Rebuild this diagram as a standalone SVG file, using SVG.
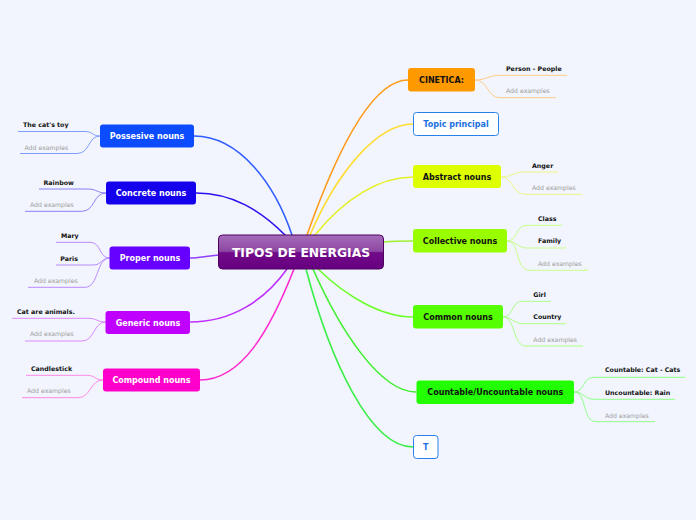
<svg xmlns="http://www.w3.org/2000/svg" width="696" height="520" viewBox="0 0 696 520">
<style>
.nt{font-family:"DejaVu Sans","Liberation Sans",sans-serif;font-weight:bold;font-size:8px;text-anchor:middle}
.ct{font-family:"DejaVu Sans","Liberation Sans",sans-serif;font-weight:bold;font-size:6.3px;fill:#111}
.ae{font-family:"DejaVu Sans","Liberation Sans",sans-serif;font-size:6.2px;fill:#9a9a9a}
.br{fill:none;stroke-width:1.6;stroke-linecap:round}
.cl{fill:none;stroke-width:1}
</style>
<defs>
<linearGradient id="cg" x1="0" y1="0" x2="0" y2="1">
<stop offset="0" stop-color="#a66cb9"/>
<stop offset="0.48" stop-color="#8d47a2"/>
<stop offset="0.52" stop-color="#710b89"/>
<stop offset="1" stop-color="#670080"/>
</linearGradient>
</defs>
<rect width="696" height="520" fill="#f2f5fd"/>
<g id="connectors">
<path class="br" stroke="#2f5dff" d="M292,235 C275,185 240,136 194,136"/>
<path class="br" stroke="#2a10ee" d="M285,235 C260,210 232,193 196,193"/>
<path class="br" stroke="#9040ff" d="M219,255 C205,256 200,258 190,258"/>
<path class="br" stroke="#c030ff" d="M287,269 C265,300 232,322 190,322"/>
<path class="br" stroke="#ff2ad0" d="M294,269 C270,330 242,380 200,380"/>
<path class="br" stroke="#ff9a1a" d="M307,235 C330,170 368,80 408,80"/>
<path class="br" stroke="#ffdd33" d="M310,235 C338,170 378,124 413,124"/>
<path class="br" stroke="#e6f028" d="M315,235 C345,198 380,177 413,177"/>
<path class="br" stroke="#a0f030" d="M384,242 C395,241 402,241 413,241"/>
<path class="br" stroke="#6cff2a" d="M318,269 C345,295 380,317 413,317"/>
<path class="br" stroke="#40f030" d="M313,269 C340,330 380,392 416,392"/>
<path class="br" stroke="#3cee48" d="M306,269 C330,360 370,447 413,447"/>
<!-- child lines -->
<g stroke="#7f9cff" class="cl">
<path class="cl" d="M100,136 C92,136 93,131.5 85,131.5 L18,131.5"/>
<path class="cl" d="M100,136 C88,136 90,153.5 77,153.5 L20,153.5"/>
</g>
<g stroke="#8a80f5">
<path class="cl" d="M106,193 C97,193 97,189 88,189 L39,189"/>
<path class="cl" d="M106,193 C93,193 95,211.3 82,211.3 L25,211.3"/>
</g>
<g stroke="#b88aff">
<path class="cl" d="M110,258 C98,258 102,242.3 90,242.3 L56,242.3"/>
<path class="cl" d="M110,258 C101,258 102,265 93,265 L56,265"/>
<path class="cl" d="M110,258 C96,258 99,287.3 85,287.3 L28,287.3"/>
</g>
<g stroke="#dc8aff">
<path class="cl" d="M106,322 C97,322 97,318.3 88,318.3 L12,318.3"/>
<path class="cl" d="M106,322 C93,322 95,341 82,341 L25,341"/>
</g>
<g stroke="#ff88e6">
<path class="cl" d="M103,380 C95,380 95,375.3 87,375.3 L26,375.3"/>
<path class="cl" d="M103,380 C90,380 91,397.7 78,397.7 L22,397.7"/>
</g>
<g stroke="#ffcc88">
<path class="cl" d="M475,80 C487,80 488,75.3 500,75.3 L567,75.3"/>
<path class="cl" d="M475,80 C488,80 487,97.7 500,97.7 L556,97.7"/>
</g>
<g stroke="#eef585">
<path class="cl" d="M501,177 C512,177 513,172 524,172 L558,172"/>
<path class="cl" d="M501,177 C513,177 512,194.3 525,194.3 L582,194.3"/>
</g>
<g stroke="#c8ff88">
<path class="cl" d="M507,241 C518,241 515,225.3 527,225.3 L562,225.3"/>
<path class="cl" d="M507,241 C516,241 518,248 527,248 L566,248"/>
<path class="cl" d="M507,241 C520,241 515,270.3 530,270.3 L588,270.3"/>
</g>
<g stroke="#acff88">
<path class="cl" d="M503,317 C514,317 511,301.3 522,301.3 L551,301.3"/>
<path class="cl" d="M503,317 C512,317 514,323.7 523,323.7 L566,323.7"/>
<path class="cl" d="M503,317 C516,317 512,346 526,346 L583,346"/>
</g>
<g stroke="#90ff88">
<path class="cl" d="M574,392 C585,392 582,377.3 594,377.3 L685,377.3"/>
<path class="cl" d="M574,392 C583,392 585,399.3 594,399.3 L675,399.3"/>
<path class="cl" d="M574,392 C587,392 582,421.7 596,421.7 L655,421.7"/>
</g>
</g>
<g id="center">
<rect x="218.5" y="235" width="165" height="34" rx="4" fill="url(#cg)" stroke="#4d0060" stroke-width="1"/>
<text x="301" y="256.5" class="nt" style="font-size:12.3px" fill="#fff">TIPOS DE ENERGIAS</text>
</g>
<g id="n-possesive"><rect x="100" y="124.5" width="94" height="23" rx="3" fill="#0b4cff"/><text x="147" y="139" class="nt" fill="#fff">Possesive nouns</text></g>
<g id="n-concrete"><rect x="106" y="181.5" width="90" height="23" rx="3" fill="#1500ee"/><text x="151" y="196" class="nt" fill="#fff">Concrete nouns</text></g>
<g id="n-proper"><rect x="109.5" y="246.5" width="80.5" height="23" rx="3" fill="#6600ff"/><text x="150" y="261" class="nt" fill="#fff">Proper nouns</text></g>
<g id="n-generic"><rect x="105.5" y="311" width="84.5" height="23" rx="3" fill="#c000ff"/><text x="148" y="325.5" class="nt" fill="#fff">Generic nouns</text></g>
<g id="n-compound"><rect x="103" y="368.5" width="97" height="23" rx="3" fill="#ff00cc"/><text x="151.5" y="383" class="nt" fill="#fff">Compound nouns</text></g>
<g id="n-cinetica"><rect x="408" y="68" width="67" height="23.5" rx="3" fill="#ff9900"/><text x="441.5" y="82.5" class="nt" fill="#111">CINETICA:</text></g>
<g id="n-topic"><rect x="413.5" y="112.5" width="85" height="23" rx="3" fill="#fff" stroke="#2a80e8" stroke-width="1"/><text x="456" y="127" class="nt" fill="#1a6fe0">Topic principal</text></g>
<g id="n-abstract"><rect x="413" y="165" width="88" height="23" rx="3" fill="#ddff00"/><text x="457" y="179.5" class="nt" fill="#111">Abstract nouns</text></g>
<g id="n-collective"><rect x="413" y="229" width="94" height="23.5" rx="3" fill="#99ff00"/><text x="460" y="243.5" class="nt" fill="#111">Collective nouns</text></g>
<g id="n-common"><rect x="413" y="305" width="90" height="23.5" rx="3" fill="#55ff00"/><text x="458" y="319.5" class="nt" fill="#111">Common nouns</text></g>
<g id="n-countable"><rect x="416.5" y="380.5" width="157.5" height="23.5" rx="3" fill="#22ff00"/><text x="495.3" y="395" class="nt" fill="#111">Countable/Uncountable nouns</text></g>
<g id="n-t"><rect x="413.5" y="435.5" width="24.5" height="23" rx="3" fill="#fff" stroke="#2a80e8" stroke-width="1"/><text x="425.7" y="450" class="nt" fill="#1a6fe0">T</text></g>
<g id="children">
<text x="23" y="126.8" class="ct">The cat's toy</text>
<text x="24.5" y="149.6" class="ae">Add examples</text>
<text x="43.5" y="184.6" class="ct">Rainbow</text>
<text x="30" y="207" class="ae">Add examples</text>
<text x="61" y="238" class="ct">Mary</text>
<text x="60.3" y="260.6" class="ct">Paris</text>
<text x="34" y="283" class="ae">Add examples</text>
<text x="17" y="314" class="ct">Cat are animals.</text>
<text x="30" y="335.6" class="ae">Add examples</text>
<text x="31" y="370.6" class="ct">Candlestick</text>
<text x="27" y="392.6" class="ae">Add examples</text>
<text x="506" y="70.6" class="ct">Person - People</text>
<text x="506" y="92.6" class="ae">Add examples</text>
<text x="532" y="167.6" class="ct">Anger</text>
<text x="532" y="189.6" class="ae">Add examples</text>
<text x="538" y="220.6" class="ct">Class</text>
<text x="538" y="243" class="ct">Family</text>
<text x="538" y="265.6" class="ae">Add examples</text>
<text x="533.3" y="296.6" class="ct">Girl</text>
<text x="533.3" y="319" class="ct">Country</text>
<text x="533.3" y="341.6" class="ae">Add examples</text>
<text x="605" y="372.3" class="ct">Countable: Cat - Cats</text>
<text x="605" y="394.6" class="ct">Uncountable: Rain</text>
<text x="605" y="417.6" class="ae">Add examples</text>
</g>
</svg>
